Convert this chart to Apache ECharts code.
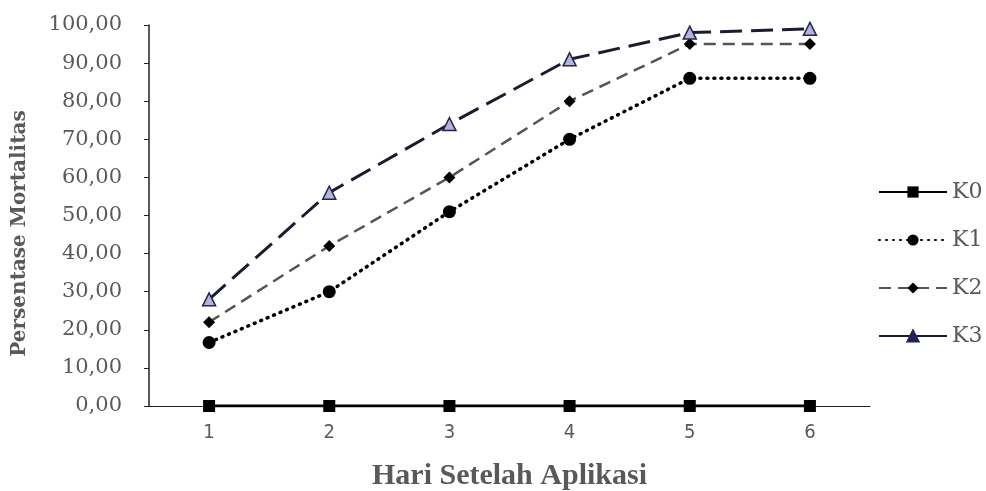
<!DOCTYPE html>
<html>
<head>
<meta charset="utf-8">
<script src="https://cdn.jsdelivr.net/npm/echarts@6/dist/echarts.min.js"></script>
<style>html,body{margin:0;padding:0;background:#fff}#c{width:986px;height:491px}</style>
</head>
<body>
<div id="c"></div>
<script>
var categories = ['1','2','3','4','5','6'];
var K0 = [0,0,0,0,0,0];
var K1 = [16.67,30,51,70,86,86];
var K2 = [22,42,60,80,95,95];
var K3 = [28,56,74,91,98,99];

var chart = echarts.init(document.getElementById('c'));
var gray = '#595959';
chart.setOption({
  animation:false,
  backgroundColor:'#fff',
  grid:{left:149,right:116,top:25,bottom:85,outerBoundsMode:'none',containLabel:false},
  legend:{
    orient:'vertical', left:873, top:176, itemGap:26, itemWidth:68, itemHeight:14,
    textStyle:{fontFamily:'DejaVu Serif',fontSize:22,lineHeight:22,color:gray},
    data:['K0','K1','K2',{name:'K3',lineStyle:{type:'solid'},itemStyle:{color:'#23235a'}}]
  },
  xAxis:{
    type:'category', data:categories, boundaryGap:true,
    axisLine:{lineStyle:{color:'#222',width:1.2}},
    axisTick:{show:false},
    axisLabel:{fontFamily:'DejaVu Sans Condensed',fontSize:20,color:gray,margin:17},
    name:'Hari Setelah Aplikasi', nameLocation:'middle', nameGap:55,
    nameTextStyle:{fontFamily:'Liberation Serif',fontSize:30,fontWeight:'bold',color:gray}
  },
  yAxis:{
    type:'value', min:0, max:100, interval:10,
    axisLine:{show:true,lineStyle:{color:'#222',width:1.5}},
    axisTick:{show:true,length:5,lineStyle:{color:'#222'}},
    splitLine:{show:false},
    axisLabel:{fontFamily:'DejaVu Serif',fontSize:21,color:gray,margin:27,
      formatter:function(v){return v.toFixed(2).replace('.',',');}},
    name:'Persentase Mortalitas', nameLocation:'middle', nameGap:119, nameRotate:90,
    nameTextStyle:{fontFamily:'DejaVu Serif',fontSize:20,fontWeight:'bold',color:gray,padding:[0,36,0,0]}
  },
  series:[
    {name:'K0',type:'line',data:K0,symbol:'rect',symbolSize:12,z:5,
      itemStyle:{color:'#000'},lineStyle:{color:'#000',width:3,type:'solid'}},
    {name:'K1',type:'line',data:K1,symbol:'circle',symbolSize:13,
      itemStyle:{color:'#000'},lineStyle:{color:'#000',width:3.5,type:[1,6],cap:'round'}},
    {name:'K2',type:'line',data:K2,symbol:'diamond',symbolSize:12,
      itemStyle:{color:'#000'},lineStyle:{color:'#555',width:2.5,type:[12,7]}},
    {name:'K3',type:'line',data:K3,symbol:'triangle',symbolSize:13,
      itemStyle:{color:'#b4b4d4',borderColor:'#23235a',borderWidth:1.5},lineStyle:{color:'#1c1c2e',width:3,type:[22,9]}}
  ]
});
</script>
</body>
</html>
